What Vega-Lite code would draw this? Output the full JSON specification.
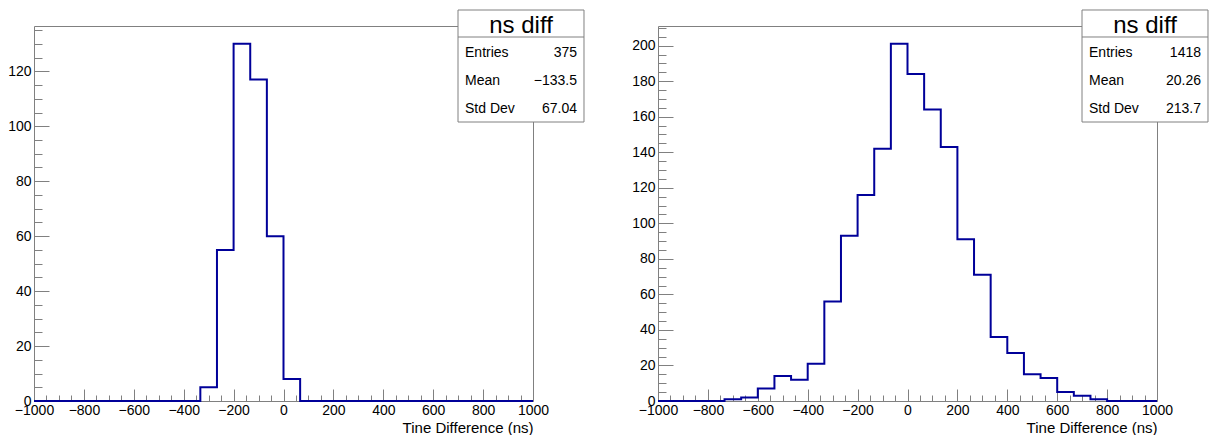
{
  "$schema": "https://vega.github.io/schema/vega-lite/v6.json",
  "background": "white",
  "padding": {"left": 7, "top": 8, "right": 0, "bottom": 0},
  "config": {
    "font": "Liberation Sans",
    "view": {"stroke": "#808080", "strokeWidth": 1},
    "axis": {
      "grid": false,
      "domain": false,
      "tickColor": "#808080",
      "tickWidth": 1,
      "labelFont": "Liberation Sans",
      "labelFontSize": 14,
      "labelColor": "#000000",
      "labelFlush": false,
      "labelOverlap": false,
      "titleFont": "Liberation Sans",
      "titleFontSize": 15,
      "titleFontWeight": "normal",
      "titleColor": "#000000"
    },
    "text": {"font": "Liberation Sans", "color": "#000000"}
  },
  "datasets": {
    "left": [
      {"lo": -1000, "hi": -933.333, "n": 0},
      {"lo": -933.333, "hi": -866.667, "n": 0},
      {"lo": -866.667, "hi": -800, "n": 0},
      {"lo": -800, "hi": -733.333, "n": 0},
      {"lo": -733.333, "hi": -666.667, "n": 0},
      {"lo": -666.667, "hi": -600, "n": 0},
      {"lo": -600, "hi": -533.333, "n": 0},
      {"lo": -533.333, "hi": -466.667, "n": 0},
      {"lo": -466.667, "hi": -400, "n": 0},
      {"lo": -400, "hi": -333.333, "n": 0},
      {"lo": -333.333, "hi": -266.667, "n": 5},
      {"lo": -266.667, "hi": -200, "n": 55},
      {"lo": -200, "hi": -133.333, "n": 130},
      {"lo": -133.333, "hi": -66.667, "n": 117},
      {"lo": -66.667, "hi": 0, "n": 60},
      {"lo": 0, "hi": 66.667, "n": 8},
      {"lo": 66.667, "hi": 133.333, "n": 0},
      {"lo": 133.333, "hi": 200, "n": 0},
      {"lo": 200, "hi": 266.667, "n": 0},
      {"lo": 266.667, "hi": 333.333, "n": 0},
      {"lo": 333.333, "hi": 400, "n": 0},
      {"lo": 400, "hi": 466.667, "n": 0},
      {"lo": 466.667, "hi": 533.333, "n": 0},
      {"lo": 533.333, "hi": 600, "n": 0},
      {"lo": 600, "hi": 666.667, "n": 0},
      {"lo": 666.667, "hi": 733.333, "n": 0},
      {"lo": 733.333, "hi": 800, "n": 0},
      {"lo": 800, "hi": 866.667, "n": 0},
      {"lo": 866.667, "hi": 933.333, "n": 0},
      {"lo": 933.333, "hi": 1000, "n": 0}
    ],
    "right": [
      {"lo": -1000, "hi": -933.333, "n": 0},
      {"lo": -933.333, "hi": -866.667, "n": 0},
      {"lo": -866.667, "hi": -800, "n": 0},
      {"lo": -800, "hi": -733.333, "n": 0},
      {"lo": -733.333, "hi": -666.667, "n": 1},
      {"lo": -666.667, "hi": -600, "n": 2},
      {"lo": -600, "hi": -533.333, "n": 7},
      {"lo": -533.333, "hi": -466.667, "n": 14},
      {"lo": -466.667, "hi": -400, "n": 12},
      {"lo": -400, "hi": -333.333, "n": 21},
      {"lo": -333.333, "hi": -266.667, "n": 56},
      {"lo": -266.667, "hi": -200, "n": 93},
      {"lo": -200, "hi": -133.333, "n": 116},
      {"lo": -133.333, "hi": -66.667, "n": 142},
      {"lo": -66.667, "hi": 0, "n": 201},
      {"lo": 0, "hi": 66.667, "n": 184},
      {"lo": 66.667, "hi": 133.333, "n": 164},
      {"lo": 133.333, "hi": 200, "n": 143},
      {"lo": 200, "hi": 266.667, "n": 91},
      {"lo": 266.667, "hi": 333.333, "n": 71},
      {"lo": 333.333, "hi": 400, "n": 36},
      {"lo": 400, "hi": 466.667, "n": 27},
      {"lo": 466.667, "hi": 533.333, "n": 15},
      {"lo": 533.333, "hi": 600, "n": 13},
      {"lo": 600, "hi": 666.667, "n": 5},
      {"lo": 666.667, "hi": 733.333, "n": 3},
      {"lo": 733.333, "hi": 800, "n": 1},
      {"lo": 800, "hi": 866.667, "n": 0},
      {"lo": 866.667, "hi": 933.333, "n": 0},
      {"lo": 933.333, "hi": 1000, "n": 0}
    ],
    "leftStats": [
      {"stat": "Entries", "value": "375"},
      {"stat": "Mean", "value": "\u2212133.5"},
      {"stat": "Std Dev", "value": "67.04"}
    ],
    "rightStats": [
      {"stat": "Entries", "value": "1418"},
      {"stat": "Mean", "value": "20.26"},
      {"stat": "Std Dev", "value": "213.7"}
    ]
  },
  "spacing": 125,
  "bounds": "flush",
  "hconcat": [
    {
      "width": 499,
      "height": 375,
      "resolve": {"axis": {"x": "independent", "y": "independent"}},
      "layer": [
        {
          "data": {"name": "left"},
          "transform": [{"fold": ["lo", "hi"], "as": ["edge", "t"]}],
          "mark": {"type": "line", "color": "#000099", "strokeWidth": 2, "strokeJoin": "miter"},
          "encoding": {
            "x": {
              "field": "t", "type": "quantitative",
              "scale": {"domain": [-1000, 1000], "nice": false, "zero": false},
              "axis": {
                "orient": "bottom",
                "values": [-1000, -800, -600, -400, -200, 0, 200, 400, 600, 800, 1000],
                "format": "d",
                "tickSize": -12,
                "labelPadding": 14,
                "title": "Tine Difference (ns)",
                "titleAnchor": "end",
                "titleAlign": "right",
                "titleBaseline": "alphabetic",
                "titleX": 499,
                "titleY": 31
              }
            },
            "y": {
              "field": "n", "type": "quantitative",
              "scale": {"domain": [0, 136.5], "nice": false},
              "axis": {
                "orient": "left",
                "values": [0, 20, 40, 60, 80, 100, 120],
                "format": "d",
                "tickSize": -15,
                "labelPadding": 18,
                "title": null
              }
            },
            "order": [
              {"field": "t", "type": "quantitative", "sort": "ascending"},
              {"field": "edge", "type": "nominal", "sort": "ascending"}
            ]
          }
        },
        {
          "data": {"values": [{}]},
          "mark": {"type": "rect", "fill": "white", "stroke": "#808080", "strokeWidth": 1},
          "encoding": {
            "x": {
              "datum": 699.4, "type": "quantitative",
              "axis": {
                "orient": "bottom", "labels": false, "title": null, "tickSize": -6,
                "values": [-950, -900, -850, -750, -700, -650, -550, -500, -450, -350, -300, -250, -150, -100, -50, 50, 100, 150, 250, 300, 350, 450, 500, 550, 650, 700, 750, 850, 900, 950]
              }
            },
            "x2": {"datum": 1204.4},
            "y": {
              "datum": 142.32, "type": "quantitative",
              "axis": {
                "orient": "left", "labels": false, "title": null, "tickSize": -8,
                "values": [5, 10, 15, 25, 30, 35, 45, 50, 55, 65, 70, 75, 85, 90, 95, 105, 110, 115, 125, 130, 135]
              }
            },
            "y2": {"datum": 101.556}
          }
        },
        {
          "data": {"values": [{}]},
          "mark": {"type": "rule", "color": "#808080", "strokeWidth": 1},
          "encoding": {
            "x": {"datum": 699.4, "type": "quantitative", "axis": null},
            "x2": {"datum": 1204.4},
            "y": {"datum": 132.496, "type": "quantitative", "axis": null}
          }
        },
        {
          "data": {"values": [{"title": "ns diff"}]},
          "mark": {"type": "text", "fontSize": 24, "align": "center", "baseline": "alphabetic"},
          "encoding": {
            "x": {"datum": 951.9, "type": "quantitative", "axis": null},
            "y": {"datum": 134.13, "type": "quantitative", "axis": null},
            "text": {"field": "title"}
          }
        },
        {
          "data": {"name": "leftStats"},
          "mark": {"type": "text", "fontSize": 14, "align": "left", "baseline": "alphabetic"},
          "encoding": {
            "x": {"datum": 727.5, "type": "quantitative", "axis": null},
            "y": {"datum": 125.216, "type": "quantitative", "axis": null},
            "yOffset": {"field": "stat", "type": "nominal", "scale": {"type": "point", "domain": ["Entries", "Mean", "Std Dev"], "range": [0, 56], "padding": 0}},
            "text": {"field": "stat"}
          }
        },
        {
          "data": {"name": "leftStats"},
          "mark": {"type": "text", "fontSize": 14, "align": "right", "baseline": "alphabetic"},
          "encoding": {
            "x": {"datum": 1176.4, "type": "quantitative", "axis": null},
            "y": {"datum": 125.216, "type": "quantitative", "axis": null},
            "yOffset": {"field": "stat", "type": "nominal", "scale": {"type": "point", "domain": ["Entries", "Mean", "Std Dev"], "range": [0, 56], "padding": 0}},
            "text": {"field": "value"}
          }
        }
      ]
    },
    {
      "width": 499,
      "height": 375,
      "resolve": {"axis": {"x": "independent", "y": "independent"}},
      "layer": [
        {
          "data": {"name": "right"},
          "transform": [{"fold": ["lo", "hi"], "as": ["edge", "t"]}],
          "mark": {"type": "line", "color": "#000099", "strokeWidth": 2, "strokeJoin": "miter"},
          "encoding": {
            "x": {
              "field": "t", "type": "quantitative",
              "scale": {"domain": [-1000, 1000], "nice": false, "zero": false},
              "axis": {
                "orient": "bottom",
                "values": [-1000, -800, -600, -400, -200, 0, 200, 400, 600, 800, 1000],
                "format": "d",
                "tickSize": -12,
                "labelPadding": 14,
                "title": "Tine Difference (ns)",
                "titleAnchor": "end",
                "titleAlign": "right",
                "titleBaseline": "alphabetic",
                "titleX": 499,
                "titleY": 31
              }
            },
            "y": {
              "field": "n", "type": "quantitative",
              "scale": {"domain": [0, 211.05], "nice": false},
              "axis": {
                "orient": "left",
                "values": [0, 20, 40, 60, 80, 100, 120, 140, 160, 180, 200],
                "format": "d",
                "tickSize": -15,
                "labelPadding": 18,
                "title": null
              }
            },
            "order": [
              {"field": "t", "type": "quantitative", "sort": "ascending"},
              {"field": "edge", "type": "nominal", "sort": "ascending"}
            ]
          }
        },
        {
          "data": {"values": [{}]},
          "mark": {"type": "rect", "fill": "white", "stroke": "#808080", "strokeWidth": 1},
          "encoding": {
            "x": {
              "datum": 699.4, "type": "quantitative",
              "axis": {
                "orient": "bottom", "labels": false, "title": null, "tickSize": -6,
                "values": [-950, -900, -850, -750, -700, -650, -550, -500, -450, -350, -300, -250, -150, -100, -50, 50, 100, 150, 250, 300, 350, 450, 500, 550, 650, 700, 750, 850, 900, 950]
              }
            },
            "x2": {"datum": 1204.4},
            "y": {
              "datum": 220.055, "type": "quantitative",
              "axis": {
                "orient": "left", "labels": false, "title": null, "tickSize": -8,
                "values": [5, 10, 15, 25, 30, 35, 45, 50, 55, 65, 70, 75, 85, 90, 95, 105, 110, 115, 125, 130, 135, 145, 150, 155, 165, 170, 175, 185, 190, 195, 205, 210]
              }
            },
            "y2": {"datum": 157.02}
          }
        },
        {
          "data": {"values": [{}]},
          "mark": {"type": "rule", "color": "#808080", "strokeWidth": 1},
          "encoding": {
            "x": {"datum": 699.4, "type": "quantitative", "axis": null},
            "x2": {"datum": 1204.4},
            "y": {"datum": 204.86, "type": "quantitative", "axis": null}
          }
        },
        {
          "data": {"values": [{"title": "ns diff"}]},
          "mark": {"type": "text", "fontSize": 24, "align": "center", "baseline": "alphabetic"},
          "encoding": {
            "x": {"datum": 951.9, "type": "quantitative", "axis": null},
            "y": {"datum": 207.39, "type": "quantitative", "axis": null},
            "text": {"field": "title"}
          }
        },
        {
          "data": {"name": "rightStats"},
          "mark": {"type": "text", "fontSize": 14, "align": "left", "baseline": "alphabetic"},
          "encoding": {
            "x": {"datum": 727.5, "type": "quantitative", "axis": null},
            "y": {"datum": 193.6, "type": "quantitative", "axis": null},
            "yOffset": {"field": "stat", "type": "nominal", "scale": {"type": "point", "domain": ["Entries", "Mean", "Std Dev"], "range": [0, 56], "padding": 0}},
            "text": {"field": "stat"}
          }
        },
        {
          "data": {"name": "rightStats"},
          "mark": {"type": "text", "fontSize": 14, "align": "right", "baseline": "alphabetic"},
          "encoding": {
            "x": {"datum": 1176.4, "type": "quantitative", "axis": null},
            "y": {"datum": 193.6, "type": "quantitative", "axis": null},
            "yOffset": {"field": "stat", "type": "nominal", "scale": {"type": "point", "domain": ["Entries", "Mean", "Std Dev"], "range": [0, 56], "padding": 0}},
            "text": {"field": "value"}
          }
        }
      ]
    }
  ]
}
